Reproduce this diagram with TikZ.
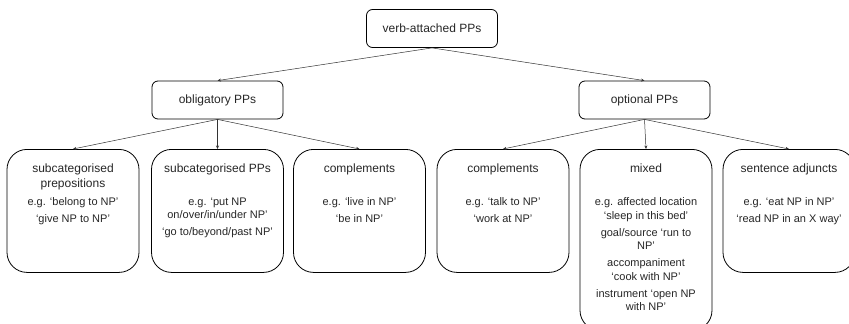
\documentclass[tikz,border=0pt]{standalone}
\usepackage{fontspec}
\setmainfont{Liberation Sans}
\usepackage{tikz}
\usetikzlibrary{arrows.meta}
\tikzset{
  topbox/.style={draw, rounded corners=6pt, minimum width=131pt, minimum height=38pt,
    inner sep=0pt, font=\fontsize{12}{14}\selectfont},
  leafbox/.style={draw, rounded corners=20pt, minimum width=132pt, anchor=north, inner sep=0pt},
  heading/.style={anchor=north, inner sep=0pt, align=center, font=\fontsize{12}{15}\selectfont},
  body/.style={anchor=north, inner sep=0pt, align=center, font=\fontsize{11}{13.5}\selectfont},
  edge/.style={draw=black!80, line width=0.5pt, -{Stealth[length=3.5pt,width=3pt]}}
}

\begin{document}
\begin{tikzpicture}[x=1pt, y=-1pt, line width=0.8pt, text=black!85]
    \useasboundingbox (0,0) rectangle (849,324);
    \clip (0,0) rectangle (849,324);

    \def\topY{149};
    \def\headY{163.5};
    \def\bodyY{197.5};

    % top levels
    \node[topbox] (root) at (432,28.5) {verb-attached PPs};
    \node[topbox] (obl) at (217.5,100) {obligatory PPs};
    \node[topbox] (opt) at (644.5,100) {optional PPs};

    % leaves
    \node[leafbox, minimum height=123pt] (subprep) at (73,\topY) {};
    \node[leafbox, minimum height=123pt] (subpp) at (217.5,\topY) {};
    \node[leafbox, minimum height=123pt] (oblcomp) at (359.5,\topY) {};
    \node[leafbox, minimum height=123pt] (optcomp) at (503,\topY) {};
    \node[leafbox, minimum height=181pt] (mixed) at (646,\topY) {};
    \node[leafbox, minimum height=123pt] (sentadj) at (789,\topY) {};

    \node[heading] (subprephead) at (73,\headY) {subcategorised\\prepositions};
    \node[heading] (subpphead) at (217.5,\headY) {subcategorised PPs};
    \node[heading] (oblcomphead) at (359.5,\headY) {complements};
    \node[heading] (optcomphead) at (503,\headY) {complements};
    \node[heading] (mixedhead) at (646,\headY) {mixed};
    \node[heading] (sentadjhead) at (789,\headY) {sentence adjuncts};

    \node[body] (subprepbody) at (73,\bodyY) {e.g. ‘belong to NP’\\[3.5pt]‘give NP to NP’};
    \node[body] (subppbody) at (217.5,\bodyY) {e.g. ‘put NP\\on/over/in/under NP’\\[3.5pt]‘go to/beyond/past NP’};
    \node[body] (oblcompbody) at (359.5,\bodyY) {e.g. ‘live in NP’\\[3.5pt]‘be in NP’};
    \node[body] (optcompbody) at (503,\bodyY) {e.g. ‘talk to NP’\\[3.5pt]‘work at NP’};
    \node[body] (mixedbody) at (646,\bodyY) {e.g. affected location\\‘sleep in this bed’\\[3.5pt]goal/source ‘run to\\NP’\\[3.5pt]accompaniment\\‘cook with NP’\\[3.5pt]instrument ‘open NP\\with NP’};
    \node[body] (sentadjbody) at (789,\bodyY) {e.g. ‘eat NP in NP’\\[3.5pt]‘read NP in an X way’};

    % connectors
    \draw[edge] (root.south) -- (obl.north);
    \draw[edge] (root.south) -- (opt.north);
    \draw[edge] (obl.south) -- (subprep.north);
    \draw[edge] (obl.south) -- (subpp.north);
    \draw[edge] (obl.south) -- (oblcomp.north);
    \draw[edge] (opt.south) -- (optcomp.north);
    \draw[edge] (opt.south) -- (mixed.north);
    \draw[edge] (opt.south) -- (sentadj.north);
\end{tikzpicture}
\end{document}
